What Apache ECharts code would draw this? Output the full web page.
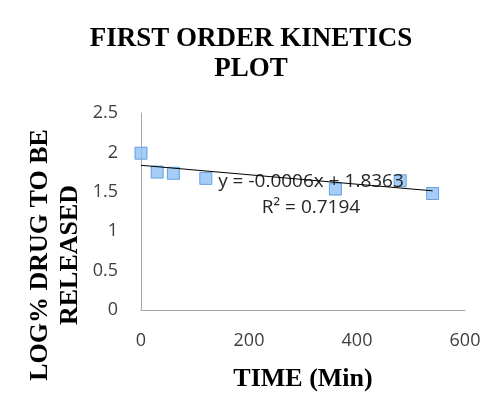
<!DOCTYPE html>
<html>
<head>
<meta charset="utf-8">
<script src="https://cdn.jsdelivr.net/npm/echarts@6/dist/echarts.min.js"></script>
<style>
  html, body { margin: 0; padding: 0; background: #fff; }
  #main { width: 502px; height: 403px; }
</style>
</head>
<body>
<div id="main"></div>
<script>
// time (min) and log% drug to be released
var timeMin = [0, 30, 60, 120, 360, 480, 540];
var logDrug = [1.99, 1.75, 1.735, 1.67, 1.535, 1.64, 1.478];
// linear trend (from the chart's equation)
var trendSlope = -0.0006;
var trendIntercept = 1.8363;
var trendRange = [0, 540];
var xTicks = [0, 200, 400, 600];
var yTicks = [0, 0.5, 1, 1.5, 2, 2.5];

var points = [];
for (var i = 0; i < timeMin.length; i++) {
  points.push([timeMin[i], logDrug[i]]);
}
var trendData = [];
for (var j = 0; j < trendRange.length; j++) {
  trendData.push([trendRange[j], trendIntercept + trendSlope * trendRange[j]]);
}

var serif = '"Liberation Serif", "Times New Roman", serif';
var sans = '"Open Sans", "Liberation Sans", sans-serif';

var myChart = echarts.init(document.getElementById('main'));

var option = {
  animation: false,
  backgroundColor: '#fff',
  title: {
    text: 'FIRST ORDER KINETICS\nPLOT',
    left: 'center',
    top: 19,
    textStyle: {
      fontFamily: serif,
      fontWeight: 'bold',
      fontSize: 27,
      lineHeight: 30,
      color: '#000'
    }
  },
  grid: {
    left: 141,
    right: 37,
    top: 113,
    bottom: 93
  },
  xAxis: {
    type: 'value',
    min: xTicks[0],
    max: xTicks[xTicks.length - 1],
    interval: 200,
    name: 'TIME (Min)',
    nameLocation: 'middle',
    nameGap: 56,
    nameTextStyle: {
      fontFamily: serif,
      fontWeight: 'bold',
      fontSize: 26,
      color: '#000'
    },
    axisLine: { lineStyle: { color: '#a6a6a6', width: 1 } },
    axisTick: { show: false },
    splitLine: { show: false },
    axisLabel: {
      margin: 22,
      fontFamily: sans,
      fontSize: 18,
      color: '#404040'
    }
  },
  yAxis: {
    type: 'value',
    min: yTicks[0],
    max: yTicks[yTicks.length - 1],
    interval: 0.5,
    axisLine: { show: true, lineStyle: { color: '#a6a6a6', width: 1 } },
    axisTick: { show: false },
    splitLine: { show: false },
    axisLabel: {
      margin: 23,
      fontFamily: sans,
      fontSize: 18,
      color: '#404040'
    }
  },
  graphic: [
    {
      type: 'text',
      x: 55,
      y: 255,
      rotation: Math.PI / 2,
      style: {
        text: 'LOG% DRUG TO BE\nRELEASED',
        font: 'bold 26px ' + serif,
        lineHeight: 30,
        fill: '#000',
        align: 'center',
        verticalAlign: 'middle'
      }
    },
    {
      type: 'text',
      x: 311,
      y: 182,
      z: 2.5,
      style: {
        text: 'y = -0.0006x + 1.8363',
        font: '19px ' + sans,
        fill: '#262626',
        align: 'center',
        verticalAlign: 'middle'
      }
    },
    {
      type: 'text',
      x: 311,
      y: 208,
      z: 2.5,
      style: {
        text: 'R² = 0.7194',
        font: '19px ' + sans,
        fill: '#262626',
        align: 'center',
        verticalAlign: 'middle'
      }
    }
  ],
  series: [
    {
      type: 'scatter',
      data: points,
      symbol: 'rect',
      symbolSize: 12,
      z: 2,
      itemStyle: {
        color: '#8fc0f5',
        borderColor: '#4a90d9',
        borderWidth: 1
      }
    },
    {
      type: 'line',
      data: trendData,
      showSymbol: false,
      symbol: 'none',
      z: 3,
      lineStyle: { color: '#000', width: 1 }
    }
  ]
};

myChart.setOption(option);
</script>
</body>
</html>
